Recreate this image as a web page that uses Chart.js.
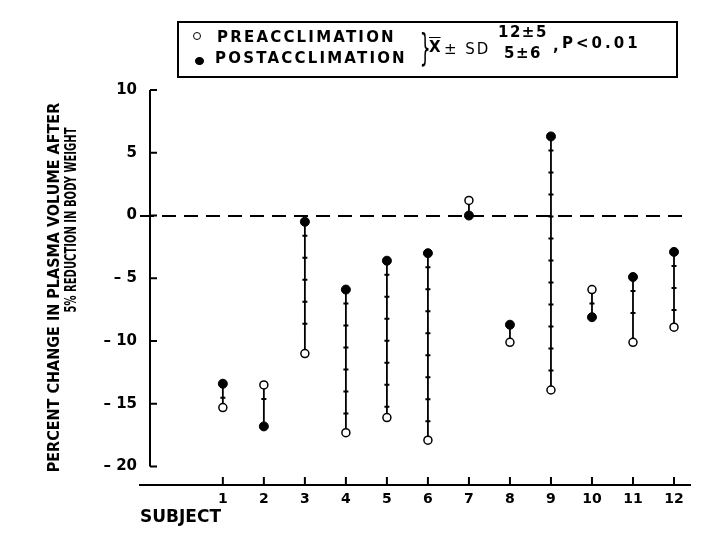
<!DOCTYPE html>
<html>
<head>
<meta charset="utf-8">
<title>Plasma volume change</title>
<script src="https://cdn.jsdelivr.net/npm/chart.js@4"></script>
<style>
  html, body { margin: 0; padding: 0; background: #fff; }
  #wrap { position: relative; width: 720px; height: 540px; }
  #chart { position: absolute; left: 0; top: 0; }
  .legend {
    position: absolute; left: 177px; top: 21px; width: 497px; height: 53px;
    border: 2px solid #000; color: #000;
    font-family: "DejaVu Sans", sans-serif; font-weight: bold; font-size: 15px;
  }
  .legend span { position: absolute; white-space: nowrap; line-height: 15px; }
  .lbl { letter-spacing: 2.2px; }
  .sym { border: 1.5px solid #000; border-radius: 50%; box-sizing: border-box; }
  .open { left: 14px; top: 9px; width: 8px; height: 8px; background: #fff; }
  .fill { left: 16px; top: 34px; width: 9px; height: 8px; background: #000; }
  .brace { left: 234px; top: 2px; font-size: 38px; line-height: 44px !important; font-weight: normal; transform: scaleX(0.45); }
  .xbar { text-decoration: overline; }
</style>
</head>
<body>
<div id="wrap">
  <canvas id="chart" width="720" height="540"></canvas>
  <div class="legend">
    <span class="sym open"></span>
    <span class="lbl" style="left:38px;top:7px;">PREACCLIMATION</span>
    <span class="sym fill"></span>
    <span class="lbl" style="left:36px;top:28px;">POSTACCLIMATION</span>
    <span class="brace">}</span>
    <span class="xbar" style="left:250px;top:17px;">X</span>
    <span style="left:265px;top:19px;font-weight:normal;letter-spacing:2px;">± SD</span>
    <span style="left:319px;top:2px;letter-spacing:1.5px;">12±5</span>
    <span style="left:325px;top:23px;letter-spacing:1.5px;">5±6</span>
    <span style="left:374px;top:16px;">,</span>
    <span style="left:383px;top:13px;letter-spacing:3px;">P&lt;0.01</span>
  </div>
</div>
<script>
(function () {
  "use strict";

  // ---- data --------------------------------------------------------------
  var SUBJECTS = [1, 2, 3, 4, 5, 6, 7, 8, 9, 10, 11, 12];
  var PRE = [-15.3, -13.5, -11.0, -17.3, -16.1, -17.9, 1.2, -10.1, -13.9, -5.9, -10.1, -8.9];
  var POST = [-13.4, -16.8, -0.5, -5.9, -3.6, -3.0, 0.0, -8.7, 6.3, -8.1, -4.9, -2.9];
  var Y_TICKS = [10, 5, 0, -5, -10, -15, -20];
  var Y_TITLE = ["PERCENT CHANGE IN PLASMA VOLUME AFTER", "5% REDUCTION IN BODY WEIGHT"];

  var INK = "#000";
  var BOLD = "'DejaVu Sans', 'Liberation Sans', sans-serif";
  var NARROW = "'Liberation Sans Narrow', 'DejaVu Sans Condensed', 'Liberation Sans', sans-serif";

  function pts(values) {
    return SUBJECTS.map(function (s, i) { return { x: s, y: values[i] }; });
  }

  // pre -> post segments, broken by a null point
  var links = [];
  SUBJECTS.forEach(function (s, i) {
    links.push({ x: s, y: PRE[i] }, { x: s, y: POST[i] }, { x: s, y: null });
  });

  // ---- axis frame, connector cross marks, second title line --------------
  var frame = {
    id: "frame",
    afterDatasetsDraw: function (chart) {
      var ctx = chart.ctx, xs = chart.scales.x, ys = chart.scales.y;
      var area = chart.chartArea;
      var axisX = area.left + 10;
      ctx.save();
      ctx.strokeStyle = INK;
      ctx.lineWidth = 2;
      ctx.beginPath();
      ctx.moveTo(axisX, ys.getPixelForValue(Y_TICKS[0]));
      ctx.lineTo(axisX, ys.getPixelForValue(Y_TICKS[Y_TICKS.length - 1]));
      Y_TICKS.forEach(function (v) {
        var p = ys.getPixelForValue(v);
        ctx.moveTo(axisX, p);
        ctx.lineTo(axisX + 7, p);
      });
      SUBJECTS.forEach(function (s) {
        var p = xs.getPixelForValue(s);
        ctx.moveTo(p, area.bottom);
        ctx.lineTo(p, area.bottom - 8);
      });
      ctx.stroke();

      ctx.beginPath();
      SUBJECTS.forEach(function (s, i) {
        var x = xs.getPixelForValue(s);
        var a = ys.getPixelForValue(PRE[i]), b = ys.getPixelForValue(POST[i]);
        var top = Math.min(a, b), bot = Math.max(a, b);
        for (var y = top + 14; y < bot - 8; y += 22) {
          ctx.moveTo(x - 2.5, y);
          ctx.lineTo(x + 2.5, y);
        }
      });
      ctx.stroke();

      // second line of the y title: same cap height, tighter set
      ctx.translate(ys.left + 72, area.top + 130);
      ctx.rotate(-Math.PI / 2);
      ctx.font = "bold 16px " + NARROW;
      var w = ctx.measureText(Y_TITLE[1]).width;
      ctx.scale(185 / w, 1);
      ctx.fillStyle = INK;
      ctx.textAlign = "center";
      ctx.textBaseline = "middle";
      ctx.fillText(Y_TITLE[1], 0, 0);
      ctx.restore();
    }
  };

  new Chart(document.getElementById("chart").getContext("2d"), {
    type: "scatter",
    data: {
      datasets: [
        {
          label: "PREACCLIMATION",
          data: pts(PRE),
          order: 0,
          pointStyle: "circle",
          pointRadius: 4,
          pointBackgroundColor: "#fff",
          pointBorderColor: INK,
          pointBorderWidth: 1.5
        },
        {
          label: "POSTACCLIMATION",
          data: pts(POST),
          order: 1,
          pointStyle: "circle",
          pointRadius: 4.5,
          pointBackgroundColor: INK,
          pointBorderColor: INK,
          pointBorderWidth: 1
        },
        {
          type: "line",
          label: "change",
          data: links,
          order: 2,
          borderColor: INK,
          borderWidth: 1.8,
          pointRadius: 0,
          spanGaps: false,
          fill: false
        }
      ]
    },
    options: {
      responsive: false,
      animation: false,
      layout: { padding: { top: 90, right: 30, left: 0, bottom: 0 } },
      plugins: {
        legend: { display: false },
        tooltip: { enabled: false }
      },
      scales: {
        x: {
          type: "linear",
          min: -1.02,
          max: 12.39,
          afterBuildTicks: function (s) {
            s.ticks = SUBJECTS.map(function (v) { return { value: v }; });
          },
          afterFit: function (s) { s.height = 55; },
          grid: { display: false, drawTicks: false },
          border: { display: true, color: INK, width: 2 },
          ticks: {
            color: INK,
            padding: 6,
            maxRotation: 0,
            autoSkip: false,
            font: { family: BOLD, size: 14, weight: "bold" }
          },
          title: {
            display: true,
            text: "SUBJECT",
            align: "start",
            color: INK,
            padding: { top: 0, bottom: 12 },
            font: { family: BOLD, size: 17, weight: "bold" }
          }
        },
        y: {
          min: -21.47,
          max: 10,
          afterBuildTicks: function (s) {
            s.ticks = Y_TICKS.map(function (v) { return { value: v }; });
          },
          afterFit: function (s) { s.width = 140; },
          border: { display: false, dash: [14, 8] },
          grid: {
            drawTicks: false,
            lineWidth: 2,
            color: function (c) {
              return c.tick && c.tick.value === 0 ? INK : "rgba(0,0,0,0)";
            }
          },
          ticks: {
            color: INK,
            padding: 3,
            font: { family: BOLD, size: 15, weight: "bold" },
            callback: function (v) { return v < 0 ? "\u2013 " + Math.abs(v) : String(v); }
          },
          title: {
            display: true,
            align: "center",
            text: Y_TITLE[0],
            color: INK,
            padding: { top: 45, bottom: 0 },
            font: { family: NARROW, size: 16, weight: "bold", lineHeight: 1.2 }
          }
        }
      }
    },
    plugins: [frame]
  });
})();
</script>
</body>
</html>
